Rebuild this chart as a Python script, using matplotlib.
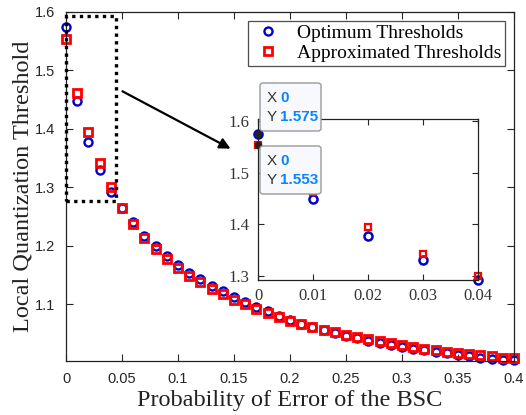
import numpy as np
import matplotlib.pyplot as plt
from matplotlib.patches import Rectangle, FancyBboxPatch

# crossover probability of the BSC
p_err = np.round(np.arange(41) * 0.01, 2)

opt_thr = [1.575, 1.448, 1.378, 1.330, 1.292, 1.265, 1.240, 1.217, 1.199, 1.183,
           1.168, 1.154, 1.143, 1.132, 1.122, 1.113, 1.104, 1.096, 1.088, 1.080,
           1.074, 1.067, 1.061, 1.056, 1.051, 1.046, 1.042, 1.038, 1.034, 1.031,
           1.027, 1.024, 1.021, 1.018, 1.016, 1.013, 1.011, 1.009, 1.007, 1.005,
           1.004]
app_thr = [1.553, 1.462, 1.395, 1.342, 1.300, 1.265, 1.238, 1.214, 1.195, 1.178,
           1.162, 1.149, 1.138, 1.127, 1.117, 1.108, 1.100, 1.092, 1.085, 1.078,
           1.072, 1.066, 1.061, 1.056, 1.052, 1.048, 1.044, 1.040, 1.037, 1.033,
           1.030, 1.027, 1.024, 1.021, 1.019, 1.017, 1.015, 1.013, 1.011, 1.009,
           1.008]

x_ticks = [0, 0.05, 0.1, 0.15, 0.2, 0.25, 0.3, 0.35, 0.4]
x_ticklabels = ['0', '0.05', '0.1', '0.15', '0.2', '0.25', '0.3', '0.35', '0.4']
y_ticks = [1.1, 1.2, 1.3, 1.4, 1.5, 1.6]
inset_xticks = [0, 0.01, 0.02, 0.03, 0.04]
inset_yticks = [1.3, 1.4, 1.5, 1.6]

serif = ['Liberation Serif', 'DejaVu Serif']
sans = ['Liberation Sans', 'DejaVu Sans']
blue = '#0000cc'
red = '#ff0000'
tick_col = '#262626'

fig = plt.figure(figsize=(5.26, 4.15), dpi=100)
ax = fig.add_axes([0.1255, 0.1301, 0.8517, 0.841])

ax.plot(p_err, opt_thr, 'o', ms=5.8, mew=1.7, mfc='none', mec=blue,
        clip_on=False, label='Optimum Thresholds')
ax.plot(p_err, app_thr, 's', ms=6.3, mew=2.0, mfc='none', mec=red,
        clip_on=False, label='Approximated Thresholds')

ax.set_xlim(0, 0.4)
ax.set_ylim(1.003, 1.6)
ax.set_xticks(x_ticks)
ax.set_xticklabels(x_ticklabels, family=sans, fontsize=10.5, color=tick_col)
ax.set_yticks(y_ticks)
ax.set_yticklabels([f'{v:.1f}' for v in y_ticks], family=sans, fontsize=10.5,
                   color=tick_col)
ax.tick_params(direction='in', top=True, right=True, length=5, width=0.8,
               color=tick_col, pad=8)
for s in ax.spines.values():
    s.set_linewidth(0.9)
    s.set_color('#222222')

ax.set_xlabel('Probability of Error of the BSC', family=serif, fontsize=17.5,
              color='#222222', labelpad=3)
ax.set_ylabel('Local Quantization Threshold', family=serif, fontsize=17.5,
              color='#222222', labelpad=1)

leg = ax.legend(loc='upper right', bbox_to_anchor=(0.98, 0.975),
                prop={'family': serif, 'size': 14}, frameon=True,
                fancybox=False, edgecolor='#222222', borderpad=0.2,
                labelspacing=0.1, handletextpad=0.7, handlelength=1.6,
                borderaxespad=0)
leg.get_frame().set_linewidth(0.9)

# dotted zoom window around the first points
ax.add_patch(Rectangle((0, 1.277), 0.0446, 1.594 - 1.277, fill=False,
                       ls=(0, (1, 1.3)), lw=2.4, ec='black', clip_on=False,
                       zorder=5))
ax.annotate('', xy=(233 / 526, 1 - 150 / 415), xycoords='figure fraction',
            xytext=(120 / 526, 1 - 90 / 415), textcoords='figure fraction',
            arrowprops=dict(arrowstyle='-|>', lw=1.6, color='black',
                            mutation_scale=16))

# inset with the first five points
axi = fig.add_axes([0.4905, 0.3253, 0.4183, 0.388])
axi.plot(p_err[:5], opt_thr[:5], 'o', ms=5.8, mew=1.8, mfc='none', mec=blue,
         clip_on=False)
axi.plot(p_err[:5], app_thr[:5], 's', ms=5, mew=1.6, mfc='none', mec=red,
         clip_on=False)
axi.set_xlim(0, 0.04)
axi.set_ylim(1.292, 1.604)
axi.set_xticks(inset_xticks)
axi.set_xticklabels(['0', '0.01', '0.02', '0.03', '0.04'], family=serif,
                    fontsize=12, color='#333333')
axi.set_yticks(inset_yticks)
axi.set_yticklabels([f'{v:.1f}' for v in inset_yticks], family=serif,
                    fontsize=12, color='#333333')
axi.tick_params(direction='in', top=True, right=True, length=4, width=0.8,
                color=tick_col, pad=6)
for s in axi.spines.values():
    s.set_linewidth(0.9)
    s.set_color('#222222')

# data tips on the p = 0 points
for yv, box_top in [(opt_thr[0], 83), (app_thr[0], 146)]:
    axi.plot(0, yv, 'o', ms=4.5, color='#222222', clip_on=False, zorder=6)
    x0, x1 = 260 / 526, 321 / 526
    y1 = 1 - box_top / 415
    y0 = 1 - (box_top + 48) / 415
    fig.patches.append(FancyBboxPatch((x0, y0), x1 - x0, y1 - y0,
                                      boxstyle='round,pad=0,rounding_size=0.006',
                                      transform=fig.transFigure, fc='#f8f8ff',
                                      ec='#9a9a9a', lw=1.0, zorder=10))
    fig.text(x0 + 7 / 526, 1 - (box_top + 15) / 415, 'X', family=sans,
             fontsize=11, color='#333333', va='center', zorder=11)
    fig.text(x0 + 20 / 526, 1 - (box_top + 15) / 415, '0', family=sans,
             fontsize=11, color='#0a84ff', weight='bold', va='center', zorder=11)
    fig.text(x0 + 7 / 526, 1 - (box_top + 34) / 415, 'Y', family=sans,
             fontsize=11, color='#333333', va='center', zorder=11)
    fig.text(x0 + 20 / 526, 1 - (box_top + 34) / 415, f'{yv:.3f}', family=sans,
             fontsize=11, color='#0a84ff', weight='bold', va='center', zorder=11)

fig.savefig('out.png', dpi=100)
